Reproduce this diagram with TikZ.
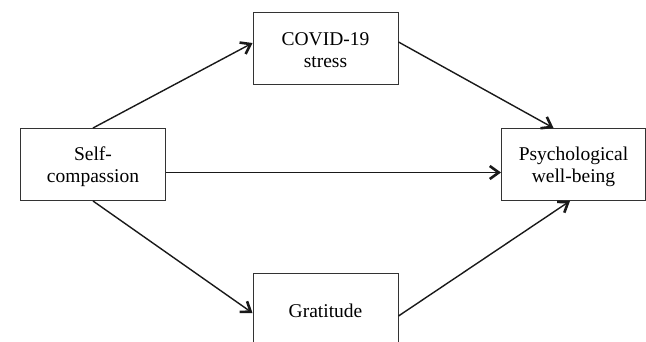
\documentclass[tikz,border=0pt]{standalone}
\usepackage{fontspec}
\setmainfont{Liberation Serif}
\usetikzlibrary{arrows.meta}
\newcommand\firststrut{\rule{0pt}{17.5pt}}
\begin{document}
\begin{tikzpicture}[x=1pt,y=-1pt,
  box/.style={draw=black!80,line width=1pt,minimum width=145pt,minimum height=72pt,
    align=center,inner sep=0pt,font=\fontsize{19.5}{22}\selectfont},
  conn/.style={line width=1.4pt,draw=black!90,-{Straight Barb[length=9pt,width=13pt,line width=2.6pt]}}]
\useasboundingbox (0,0) rectangle (646,341);
\begin{scope}
\clip (0,0) rectangle (646,341);
\node[box] (self) at (93,164.5) {\firststrut Self-\\compassion};
\node[box] (covid) at (325.5,48) {\firststrut COVID-19\\stress};
\node[box] (grat) at (325.5,309) {\firststrut Gratitude};
\node[box,minimum width=144pt] (psych) at (573.5,164.5) {\firststrut Psychological\\well-being};
\draw[conn] (self.north) -- ([yshift=5pt]covid.west);
\draw[conn] (self.south) -- ([yshift=-4pt]grat.west);
\draw[conn] ([yshift=-8pt]self.east) -- ([yshift=-8pt]psych.west);
\draw[conn] ([yshift=6pt]covid.east) -- ([xshift=-20pt]psych.north);
\draw[conn] ([yshift=-7pt]grat.east) -- ([xshift=-3.5pt]psych.south);
\end{scope}
\end{tikzpicture}
\end{document}
